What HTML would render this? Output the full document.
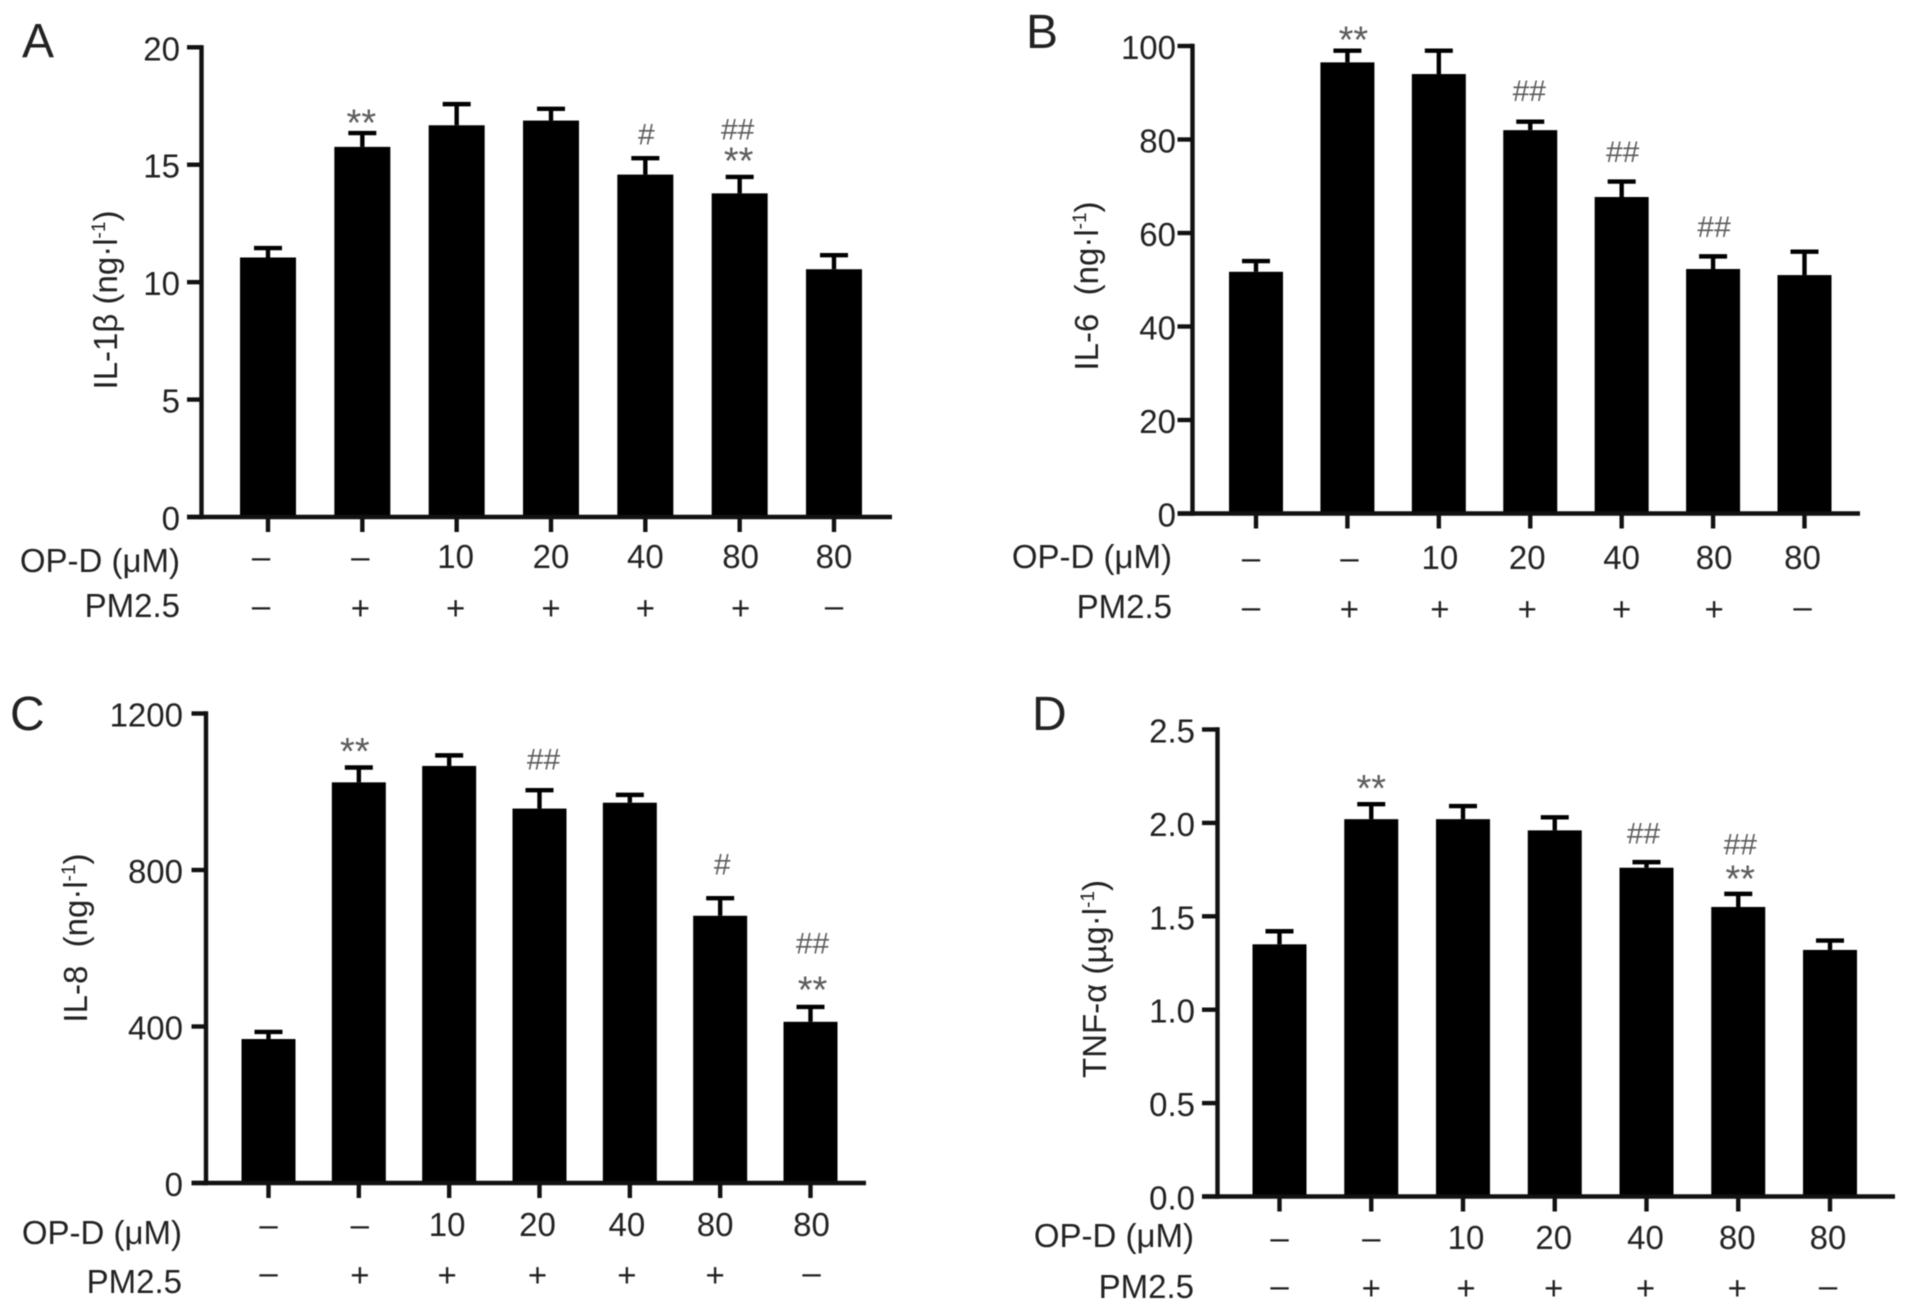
<!DOCTYPE html>
<html lang="en">
<head>
<meta charset="utf-8">
<title>Cytokine levels bar charts</title>
<style>
html,body{margin:0;padding:0;background:#fff;}
#figure{display:block;width:1913px;height:1311px;}
text{font-family:"Liberation Sans",sans-serif;fill:#222;}
</style>
</head>
<body>
<svg id="figure" xmlns="http://www.w3.org/2000/svg" width="1913" height="1311" viewBox="0 0 1913 1311"></svg>
<script>
const opDoses = ['–','–','10','20','40','80','80'];
const pmFlags = ['–','+','+','+','+','+','–'];

const aValues = [11.05,15.76,16.68,16.88,14.58,13.78,10.55];
const aErrTops = [11.45,16.35,17.58,17.38,15.28,14.48,11.15];
const aTicks = ['0','5','10','15','20'];
const aTickValues = [0,5,10,15,20];
const aMarks = [[1,'**',19,-1],[4,'#',24,1],[5,'**',25,-1],[5,'##',48,-2]];

const bValues = [51.7,96.5,94,82,67.7,52.3,51];
const bErrTops = [54,99,99,83.8,71,55,56];
const bTicks = ['0','20','40','60','80','100'];
const bTickValues = [0,20,40,60,80,100];
const bMarks = [[1,'**',20,6],[3,'##',31,-1],[4,'##',30,1],[5,'##',30,1]];

const cValues = [368,1024,1066,957,972,683,412];
const cErrTops = [386,1062,1093,1004,992,728,450];
const cTicks = ['0','400','800','1200'];
const cTickValues = [0,400,800,1200];
const cMarks = [[1,'**',25,-4],[3,'##',31,4],[5,'#',34,2],[6,'**',26,2],[6,'##',64,2]];

const dValues = [1.35,2.02,2.02,1.96,1.76,1.55,1.32];
const dErrTops = [1.42,2.1,2.09,2.03,1.79,1.62,1.37];
const dTicks = ['0.0','0.5','1.0','1.5','2.0','2.5'];
const dTickValues = [0,0.5,1,1.5,2,2.5];
const dMarks = [[1,'**',25,0],[4,'##',29,-3],[5,'**',24,2],[5,'##',50,2]];

const panels = [
  {id:'a',letter:'A',lx:22,ly:57,values:aValues,tops:aErrTops,ticks:aTicks,tickValues:aTickValues,marks:aMarks,
   yMax:20,axisX:201.5,top:47.3,base:517,xEnd:892,first:268,last:834,barW:56,tickLen:14.5,labelR:180,
   opBase:568,pmCenter:608,opHead:572,pmHead:617,rowR:180,titleX:117,titleY:300,unit:'ng·l',prefix:'IL-1β\u00A0(',nudge:[-7,-2,-1,0,0,1,0]},
  {id:'b',letter:'B',lx:1026,ly:48,values:bValues,tops:bErrTops,ticks:bTicks,tickValues:bTickValues,marks:bMarks,
   yMax:100,axisX:1192.5,top:46,base:513.5,xEnd:1860,first:1256,last:1804.5,barW:54,tickLen:15,labelR:1176,
   opBase:569,pmCenter:609,opHead:568,pmHead:618,rowR:1172,titleX:1098,titleY:286,unit:'ng·l',prefix:'IL-6\u00A0\u00A0(',nudge:[-5,2,1,-3,0,1,-2]},
  {id:'c',letter:'C',lx:10,ly:730,values:cValues,tops:cErrTops,ticks:cTicks,tickValues:cTickValues,marks:cMarks,
   yMax:1200,axisX:206,top:713.5,base:1183,xEnd:866,first:268.5,last:810.5,barW:54,tickLen:14.5,labelR:183,
   opBase:1236,pmCenter:1275,opHead:1244,pmHead:1293,rowR:182,titleX:87,titleY:938,unit:'ng·l',prefix:'IL-8\u00A0\u00A0(',nudge:[0,1,-2,-2,-3,-5,1]},
  {id:'d',letter:'D',lx:1032,ly:730,values:dValues,tops:dErrTops,ticks:dTicks,tickValues:dTickValues,marks:dMarks,
   yMax:2.5,axisX:1217.5,top:729.5,base:1196.5,xEnd:1895,first:1279.5,last:1830,barW:54,tickLen:15.5,labelR:1195,
   opBase:1249,pmCenter:1288,opHead:1247,pmHead:1298,rowR:1194,titleX:1106,titleY:979,unit:'µg·l',prefix:'TNF-α\u00A0(',nudge:[0,0,3,-1,-1,-1,-2]}
];

const NS = 'http://www.w3.org/2000/svg';
const root = document.getElementById('figure');
const LABEL_SIZE = 33;

function mk(tag, attrs, parent, text) {
  const el = document.createElementNS(NS, tag);
  for (const k in attrs) el.setAttribute(k, attrs[k]);
  if (text !== undefined) el.textContent = text;
  parent.appendChild(el);
  return el;
}

panels.forEach(function (p) {
  const yScale = function (v) { return p.base - (v / p.yMax) * (p.base - p.top); };
  const xScale = function (i) { return p.first + i * (p.last - p.first) / (p.values.length - 1); };
  const AXIS = 4.4;

  const g = mk('g', {style:'filter:blur(0.6px)'}, root);
  
  

  const letter = mk('text', {x:p.lx, y:p.ly, 'font-size':48}, g, p.letter);
  
  

  // bars and error bars
  p.values.forEach(function (v, i) {
    const cx = xScale(i);
    const barTop = yScale(v);
    const errTop = yScale(p.tops[i]);

    const stem = mk('line', {x1:cx, x2:cx, y1:barTop, y2:errTop, stroke:'#000', 'stroke-width':4.4}, g);
    
    

    const cap = mk('line', {x1:cx - 14, x2:cx + 14, y1:errTop, y2:errTop, stroke:'#000', 'stroke-width':4.4}, g);
    
    

    const bar = mk('rect', {x:cx - p.barW / 2, y:barTop, width:p.barW, height:p.base - barTop, fill:'#000'}, g);
    
    

    const xTick = mk('line', {x1:cx, x2:cx, y1:p.base, y2:p.base + 15, stroke:'#111', 'stroke-width':AXIS}, g);
    
    

    const op = mk('text', {x:cx + p.nudge[i], y:p.opBase, 'font-size':LABEL_SIZE, 'text-anchor':'middle'}, g, opDoses[i]);
    
    

    const pmBase = p.pmCenter + (pmFlags[i] === '+' ? 0.345 : 0.275) * LABEL_SIZE;
    const pm = mk('text', {x:cx + p.nudge[i], y:pmBase, 'font-size':LABEL_SIZE, 'text-anchor':'middle'}, g, pmFlags[i]);
    
    
  });

  // significance markers
  p.marks.forEach(function (m) {
    const isStar = m[1].charAt(0) === '*';
    const size = isStar ? 38 : 30;
    const center = yScale(p.tops[m[0]]) - m[2];
    const base = center + size * (isStar ? 0.57 : 0.35);
    const mark = mk('text', {x:xScale(m[0]) + m[3], y:base, 'font-size':size, 'text-anchor':'middle', style:'fill:#5c5c5c'}, g, m[1]);
    
    
  });

  // axes
  const yAxis = mk('line', {x1:p.axisX, x2:p.axisX, y1:p.top - AXIS / 2, y2:p.base + AXIS / 2, stroke:'#111', 'stroke-width':AXIS}, g);
  
  

  const xAxis = mk('line', {x1:p.axisX - p.tickLen, x2:p.xEnd, y1:p.base, y2:p.base, stroke:'#111', 'stroke-width':AXIS}, g);
  
  

  p.tickValues.forEach(function (t, i) {
    const y = yScale(t);
    const tick = mk('line', {x1:p.axisX - p.tickLen, x2:p.axisX, y1:y, y2:y, stroke:'#111', 'stroke-width':AXIS}, g);
    
    

    const label = mk('text', {x:p.labelR, y:y + 13, 'font-size':LABEL_SIZE, 'text-anchor':'end'}, g, p.ticks[i]);
    
    
  });

  // row headers
  const opHead = mk('text', {x:p.rowR, y:p.opHead, 'font-size':LABEL_SIZE, 'text-anchor':'end'}, g, 'OP-D (μM)');
  
  

  const pmHead = mk('text', {x:p.rowR, y:p.pmHead, 'font-size':LABEL_SIZE, 'text-anchor':'end'}, g, 'PM2.5');
  
  

  // y-axis title
  const title = mk('text', {x:0, y:0, 'font-size':33, 'text-anchor':'middle',
    transform:'translate(' + p.titleX + ' ' + p.titleY + ') rotate(-90)'}, g);
  
  
  mk('tspan', {}, title, p.prefix + p.unit);
  mk('tspan', {'font-size':19, dy:-12}, title, '-1');
  mk('tspan', {dy:12}, title, ')');
});
</script>
</body>
</html>
